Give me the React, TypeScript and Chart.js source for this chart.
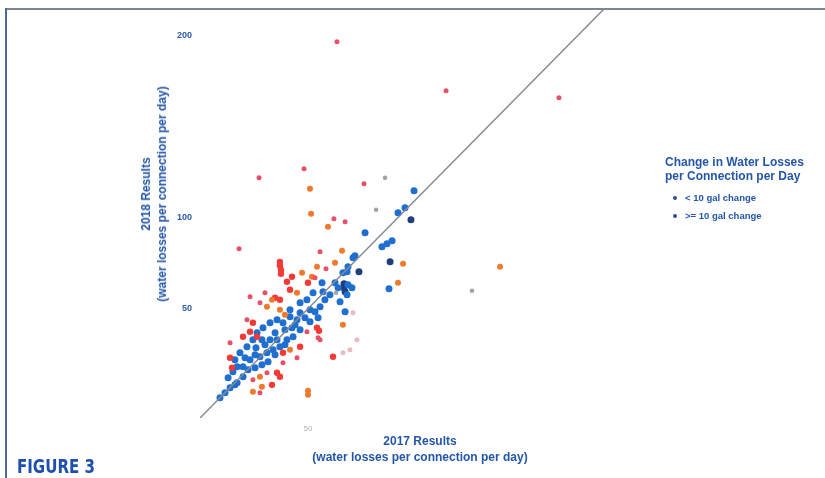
import React, { useEffect, useRef } from "react";
import { Chart, registerables } from "chart.js";

Chart.register(...registerables);

// Reference line y = x
const lineX = [-10, 215];
const lineY = [-10, 215];

// < 10 gal change (blue, close to the line)
const blueX = [108.9, 81.7, 91.1, 93.9, 96.7, 75, 76.1, 72.2, 69.4, 71.7, 74.4, 71.7, 65, 57.8, 58.3, 52.8, 49.4, 45.6, 40, 45.6, 51.1, 56.7, 72.2, 43.9, 40, 36.1, 32.8, 28.9, 25, 21.7, 19.4, 16.1, 12.2, 10.6, 8.3, 13.9, 17.8, 23.3, 27.2, 30.6, 34.4, 38.3, 41.7, 32.8, 13.9, 10.6, 6.7, 3.9, 1.1, 70.6, 95, 103.9, 100, 20.6, 26.1, 28.9, 31.7, 37.2, 42.8, 48.3, 53.9, 59.4, 62.2, 66.7, 67.8, 24.4, 16.7, 20.6, 15, 9.4, 5.6, 45.6, 51.1, 55.6, 31.7, 27.8, 37.2, 41.1, 24.4, 21.1, 9.4];
const blueY = [114.7, 91.7, 84.0, 85.6, 87.3, 77.9, 79.0, 73.0, 69.7, 70.3, 61.5, 57.6, 64.2, 64.2, 59.3, 58.7, 54.9, 53.2, 49.4, 47.7, 49.4, 51.0, 63.1, 43.9, 45.6, 42.3, 43.9, 42.3, 39.5, 36.8, 32.9, 29.1, 25.8, 18.1, 15.4, 18.1, 22.0, 23.6, 25.8, 27.4, 29.1, 32.9, 34.6, 32.9, 12.6, 9.3, 6.6, 3.8, 1.1, 48.3, 60.9, 105.4, 102.6, 24.7, 30.2, 32.9, 36.8, 38.4, 41.2, 45.0, 48.3, 54.9, 57.6, 61.5, 53.8, 19.2, 16.5, 17.6, 23.1, 22.0, 12.1, 38.4, 42.8, 45.0, 24.7, 20.9, 30.2, 39.5, 32.9, 28.5, 8.2];

const navyX = [107.2, 78.3, 95.6, 70, 70, 70.6];
const navyY = [98.8, 70.3, 75.7, 63.7, 61.5, 59.3];

// >= 10 gal change (warm colours)
const redX = [34.4, 34.4, 35.0, 35.0, 41.1, 38.3, 50, 40, 31.7, 34.4, 19.4, 21.7, 17.8, 13.9, 6.7, 45.6, 36.1, 32.8, 34.4, 30, 63.9, 55, 56.1, 7.8];
const redY = [75.7, 73.5, 71.3, 69.2, 67.5, 64.8, 64.2, 60.4, 56.0, 54.9, 42.3, 34.6, 37.3, 34.6, 23.1, 29.1, 25.8, 14.8, 12.6, 8.2, 23.6, 39.5, 37.9, 17.6];

const pinkX = [66.1, 126.7, 189.4, 22.8, 47.8, 81.1, 64.4, 70.6, 11.7, 56.7, 53.9, 60, 26.1, 17.8, 23.3, 16.1, 6.7, 55.6, 49.4, 43.9, 36.1, 27.2, 19.4, 23.3, 56.7];
const pinkY = [196.5, 169.6, 165.8, 121.8, 126.8, 118.6, 99.3, 97.7, 82.9, 81.2, 67.0, 71.9, 58.7, 56.5, 53.2, 43.9, 31.3, 34.0, 37.3, 23.1, 20.3, 14.8, 11.0, 3.8, 32.9];

const orangeX = [51.1, 51.7, 61.1, 68.9, 102.8, 100, 156.7, 46.7, 65, 55, 52.2, 43.9, 27.2, 34.4, 69.4, 40, 23.3, 24.4, 19.4, 50, 50, 30, 37.2];
const orangeY = [115.8, 102.1, 95.0, 81.8, 74.6, 64.2, 73.0, 69.7, 75.2, 73.0, 67.5, 58.7, 51.0, 49.4, 41.2, 27.4, 12.6, 7.1, 4.4, 4.9, 2.7, 54.9, 46.6];

const paleX = [69.4, 73.3, 77.2, 75];
const paleY = [25.8, 27.4, 32.9, 47.7];

const grayX = [92.8, 87.8, 141.1, 65.6];
const grayY = [121.8, 104.3, 59.8, 58.7];

const yTicks = [50, 100, 200];
const xTicks = [50];

const legendItems = ["< 10 gal change", ">= 10 gal change"];

const pts = (xs: number[], ys: number[]) => xs.map((x, i) => ({ x, y: ys[i] }));

const noPad = (s: any) => {
  s.paddingTop = 0;
  s.paddingBottom = 0;
  s.paddingLeft = 0;
  s.paddingRight = 0;
};

export default function App() {
  const ref = useRef<HTMLCanvasElement | null>(null);

  useEffect(() => {
    if (!ref.current) return;
    const scatter = (label: string, xs: number[], ys: number[], color: string, r = 2.8) => ({
      type: "scatter" as const,
      label,
      data: pts(xs, ys),
      backgroundColor: color,
      borderColor: color,
      borderWidth: 0,
      pointRadius: r,
      order: 2,
    });
    const chart = new Chart(ref.current, {
      type: "scatter",
      data: {
        datasets: [
          {
            type: "line",
            label: "y = x",
            data: pts(lineX, lineY),
            borderColor: "#858b93",
            borderWidth: 1.5,
            pointRadius: 0,
            fill: false,
            order: 0,
          } as any,
          scatter("gray", grayX, grayY, "#a3a3a3", 2.3),
          scatter("pale", paleX, paleY, "#e7bcc3", 2.5),
          scatter("pink", pinkX, pinkY, "#e8506a", 2.5),
          scatter("orange", orangeX, orangeY, "#f07a2c", 3),
          scatter("red", redX, redY, "#f43a36", 3.2),
          scatter("< 10 gal change", blueX, blueY, "#1f6fd0", 3.5),
          scatter("navy", navyX, navyY, "#1e3f7c", 3.5),
        ],
      },
      options: {
        animation: false,
        responsive: false,
        maintainAspectRatio: false,
        layout: { autoPadding: false, padding: { left: 160, right: 220, top: 8, bottom: 40 } },
        plugins: { legend: { display: false }, tooltip: { enabled: false } },
        scales: {
          x: {
            type: "linear",
            min: -10,
            max: 215,
            grid: { display: false, drawTicks: false },
            border: { display: false },
            afterBuildTicks: (s: any) => {
              s.ticks = xTicks.map((v) => ({ value: v }));
            },
            afterFit: (s: any) => {
              s.height = 20;
              noPad(s);
            },
            ticks: {
              color: "#b3b3b3",
              padding: 6,
              font: { family: "Liberation Sans, Arial, sans-serif", size: 8 },
            },
          },
          y: {
            type: "linear",
            min: -10,
            max: 215,
            grid: { display: false, drawTicks: false },
            border: { display: false },
            afterBuildTicks: (s: any) => {
              s.ticks = yTicks.map((v) => ({ value: v }));
            },
            afterFit: (s: any) => {
              s.width = 40;
              noPad(s);
            },
            ticks: {
              color: "#2a5aa8",
              padding: 8,
              font: { family: "Liberation Sans, Arial, sans-serif", size: 9, weight: "bold" },
            },
          },
        },
      },
    });
    return () => chart.destroy();
  }, []);

  const blue = "#2456a8";
  const txt: React.CSSProperties = {
    position: "absolute",
    fontFamily: "Liberation Sans, Arial, sans-serif",
    fontWeight: "bold",
    color: blue,
    whiteSpace: "nowrap",
  };

  return (
    <div style={{ position: "absolute", left: 0, top: 0, width: 825, height: 478, background: "#fff", overflow: "hidden" }}>
      <div style={{ position: "absolute", left: 6, top: 8, width: 819, height: 2, background: "#7c8492" }} />
      <div style={{ position: "absolute", left: 5, top: 8, width: 2, height: 470, background: "#4d6b99" }} />
      <canvas ref={ref} width={825} height={478} style={{ position: "absolute", left: 0, top: 0 }} />
      {/* y-axis title */}
      <div
        style={{
          ...txt,
          left: 154,
          top: 194,
          transform: "translate(-50%, -50%) rotate(-90deg)",
          textAlign: "center",
          fontSize: 12,
          lineHeight: "16px",
        }}
      >
        <div>2018 Results</div>
        <div>(water losses per connection per day)</div>
      </div>
      {/* x-axis title */}
      <div
        style={{
          ...txt,
          left: 420,
          top: 433,
          transform: "translateX(-50%)",
          textAlign: "center",
          fontSize: 12,
          lineHeight: "16px",
        }}
      >
        <div>2017 Results</div>
        <div>(water losses per connection per day)</div>
      </div>
      {/* legend */}
      <div style={{ ...txt, left: 665, top: 155, fontSize: 12, lineHeight: "14px" }}>
        <div>Change in Water Losses</div>
        <div>per Connection per Day</div>
      </div>
      {legendItems.map((t, i) => (
        <div key={t} style={{ ...txt, left: 673, top: 191 + i * 18, fontSize: 9.5, lineHeight: "13px" }}>
          <span
            style={{
              display: "inline-block",
              width: 4,
              height: 4,
              borderRadius: 2,
              background: "#2d4f8e",
              marginRight: 8,
              verticalAlign: "middle",
            }}
          />
          {t}
        </div>
      ))}
      {/* figure label */}
      <div
        style={{
          ...txt,
          left: 17,
          top: 456,
          fontFamily: "Liberation Sans Narrow, DejaVu Sans Condensed, Arial, sans-serif",
          fontSize: 19,
          lineHeight: "20px",
          color: "#1d4fb0",
          transform: "scaleX(0.88)",
          transformOrigin: "left center",
        }}
      >
        FIGURE 3
      </div>
    </div>
  );
}
